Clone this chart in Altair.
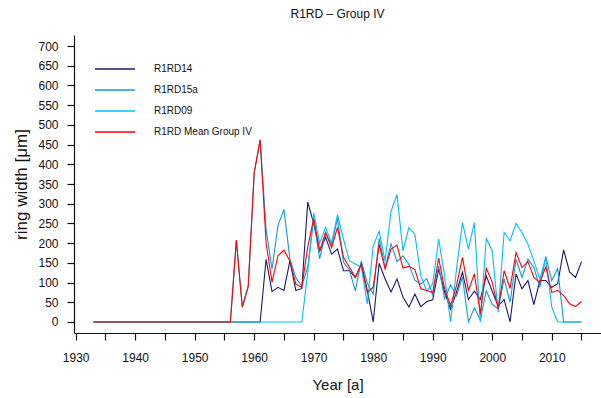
import altair as alt
import pandas as pd

years = list(range(1933, 2016))

zeros_early = [0] * 23  # 1933-1955

r1rd14 = zeros_early + [
    0, 0, 0, 0, 0, 0,            # 1956-1961
    159, 77, 88, 80, 155, 80, 85,  # 1962-1968
    304, 250, 180, 215, 172, 185, 130, 130, 113, 147, 80,  # 1969-1979
    0, 149, 109, 76, 109, 63, 38, 71, 39, 52,  # 1980-1989
    56, 134, 76, 32, 76, 126, 57, 78, 57, 117,  # 1990-1999
    78, 41, 57, 0, 122, 84, 105, 44, 105, 105,  # 2000-2009
    88, 97, 183, 127, 113, 153,  # 2010-2015
]
r1rd15a = zeros_early + [
    0, 207, 38, 90, 378, 462,
    235, 134, 245, 285, 160, 112, 91,
    140, 259, 160, 226, 195, 263, 152, 132, 79, 155, 99,
    71, 212, 138, 198, 153, 168, 146, 106, 96, 110,
    69, 142, 59, 94, 66, 114, 0, 36, 5, 79,
    45, 33, 109, 50, 159, 113, 159, 138, 88, 166,
    105, 136, 0, 0, 0, 0,
]
r1rd09 = zeros_early + [
    0, 0, 0, 0, 0, 0,
    0, 0, 0, 0, 0, 0, 0,
    126, 277, 200, 240, 200, 272, 210, 155, 147, 139, 46,
    193, 230, 155, 281, 323, 180, 239, 222, 117, 78,
    97, 210, 117, 0, 134, 252, 185, 252, 0, 212,
    180, 24, 227, 206, 250, 227, 197, 155, 109, 164,
    38, 0, 0, 0, 0, 0,
]
mean_iv = zeros_early + [
    0, 207, 38, 90, 378, 462,
    200, 101, 168, 182, 155, 96, 88,
    190, 262, 180, 227, 189, 240, 164, 139, 113, 147, 75,
    88, 197, 134, 185, 195, 137, 141, 133, 84, 80,
    74, 162, 84, 42, 92, 164, 80, 122, 21, 136,
    101, 33, 130, 85, 176, 138, 153, 113, 100, 140,
    75, 80, 67, 46, 39, 52,
]

names = ["R1RD14", "R1RD15a", "R1RD09", "R1RD Mean Group IV"]
colors = ["#191970", "#0f9ad8", "#00bfff", "#ff0000"]
series_values = [r1rd14, r1rd15a, r1rd09, mean_iv]

x_ticks = list(range(1930, 2016, 5))
y_ticks = list(range(0, 701, 50))

rows = []
for name, vals in zip(names, series_values):
    for yr, v in zip(years, vals):
        rows.append({"year": yr, "value": v, "series": name})
df = pd.DataFrame(rows)

FONT = "Liberation Sans"

color_enc = alt.Color(
    "series:N",
    scale=alt.Scale(domain=names, range=colors),
    sort=names,
    legend=alt.Legend(
        title=None,
        orient="none",
        legendX=30,
        legendY=23,
        symbolType="M-2,0H2",
        symbolSize=400,
        symbolStrokeWidth=1.4,
        labelFont=FONT,
        labelFontSize=10,
        labelColor="#111",
        labelOffset=28,
        rowPadding=5,
    ),
)

x_enc = alt.X(
    "year:Q",
    scale=alt.Scale(domain=[1929.72, 2018.28], nice=False, zero=False),
    axis=alt.Axis(
        values=x_ticks,
        labelExpr="datum.value % 10 === 0 ? toString(datum.value) : ''",
        title="Year [a]",
        grid=False,
        tickSize=7,
        labelPadding=12,
        titlePadding=14,
        labelFontSize=12,
        titleFontSize=15,
        titleFontWeight="normal",
        labelFlush=False,
        labelOverlap=False,
    ),
)
y_enc = alt.Y(
    "value:Q",
    scale=alt.Scale(domain=[-28, 728], nice=False, zero=False),
    axis=alt.Axis(
        values=y_ticks,
        title="ring width [μm]",
        grid=False,
        tickSize=7,
        labelPadding=9,
        titlePadding=7,
        labelFontSize=12,
        titleFontSize=17,
        titleFontWeight="normal",
        labelFlush=False,
        labelOverlap=False,
    ),
)

layers = []
for name in names:
    layers.append(
        alt.Chart(df)
        .transform_filter(alt.datum.series == name)
        .mark_line(strokeWidth=1.1, clip=True)
        .encode(x=x_enc, y=y_enc, color=color_enc)
    )

chart = (
    alt.layer(*layers)
    .properties(
        width=527,
        height=298,
        padding={"left": 74, "top": 35, "right": 0, "bottom": 65},
        autosize=alt.AutoSizeParams(type="none"),
        title=alt.TitleParams(
            "R1RD \u2013 Group IV",
            fontSize=12,
            fontWeight="normal",
            font=FONT,
            anchor="middle",
            offset=14,
            color="#111",
        ),
    )
    .configure_view(stroke=None)
    .configure_axis(
        labelFont=FONT,
        titleFont=FONT,
        labelColor="#111",
        titleColor="#111",
        domainColor="#111",
        tickColor="#111",
        domainWidth=1.2,
        tickWidth=1.2,
    )
)

chart.save("out.html", embed_options={"renderer": "svg", "actions": False})
